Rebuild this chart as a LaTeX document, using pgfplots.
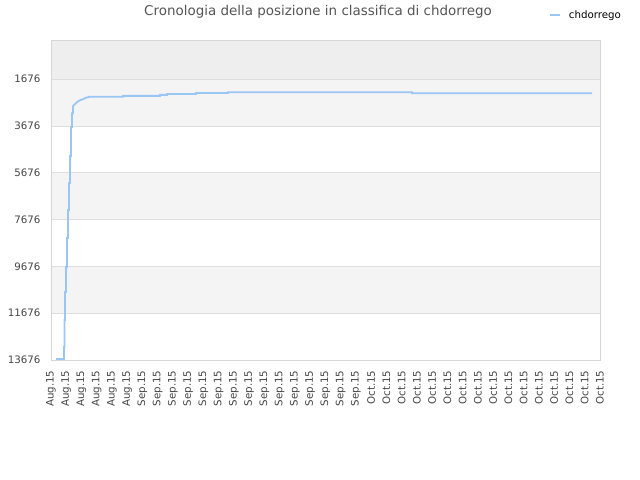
\documentclass[border=0pt]{standalone}
\usepackage{fontspec}
\setmainfont{DejaVu Sans}
\usepackage{pgfplots}
\pgfplotsset{compat=1.18}
\definecolor{lineblue}{HTML}{99C6F4}
\definecolor{bandA}{HTML}{EEEEEE}
\definecolor{bandB}{HTML}{F4F4F4}
\definecolor{gridc}{HTML}{DEDEDE}
\definecolor{framec}{HTML}{D6D6D6}
\definecolor{txt}{HTML}{444444}
\definecolor{titlec}{HTML}{555555}
\begin{document}
\begin{tikzpicture}
\begin{axis}[
  set layers,
  at={(51bp,120bp)}, anchor=south west,
  scale only axis, width=549bp, height=320bp,
  xmin=0, xmax=36, ymin=0, ymax=13676, y dir=reverse,
  scaled y ticks=false,
  axis line style={draw=framec},
  major tick length=0pt,
  ymajorgrids, grid style={draw=gridc, line width=0.8bp},
  ytick={1676,3676,5676,7676,9676,11676,13676},
  yticklabels={1676,3676,5676,7676,9676,11676,13676},
  xtick={0,...,36},
  xticklabels={Aug.15,Aug.15,Aug.15,Aug.15,Aug.15,Aug.15,
    Sep.15,Sep.15,Sep.15,Sep.15,Sep.15,Sep.15,Sep.15,Sep.15,Sep.15,Sep.15,Sep.15,Sep.15,Sep.15,Sep.15,Sep.15,
    Oct.15,Oct.15,Oct.15,Oct.15,Oct.15,Oct.15,Oct.15,Oct.15,Oct.15,Oct.15,Oct.15,Oct.15,Oct.15,Oct.15,Oct.15,Oct.15},
  ticklabel style={font=\fontsize{10.3}{12}\selectfont, text=txt},
  xticklabel style={rotate=90, anchor=east},
  yticklabel style={anchor=east},
  xticklabel shift=7bp,
  yticklabel shift=7bp,
  legend image code/.code={\draw[#1] (0bp,0bp) -- (10bp,0bp); \path (16bp,0bp);},
  legend style={at={(0.907,1.078)}, anchor=west, draw=none, fill=none,
    inner sep=0pt, font=\fontsize{10.3}{12}\selectfont, text=black},
  legend cell align=left,
]
\begin{pgfonlayer}{axis background}
\fill[bandA] (axis cs:0,0) rectangle (axis cs:36,1676);
\fill[bandB] (axis cs:0,1676) rectangle (axis cs:36,3676);
\fill[bandB] (axis cs:0,5676) rectangle (axis cs:36,7676);
\fill[bandB] (axis cs:0,9676) rectangle (axis cs:36,11676);
\end{pgfonlayer}
\addplot[lineblue, line width=1.8bp, line join=miter] coordinates {
  (0.33,13632) (0.85,13632) (0.85,13120) (0.885,13120) (0.885,11967)
  (0.92,11967) (0.92,10771) (0.98,10771) (0.98,9704) (1.05,9704)
  (1.05,8465) (1.11,8465) (1.11,7270) (1.18,7270) (1.18,6117)
  (1.25,6117) (1.25,4964) (1.31,4964) (1.31,3726) (1.38,3726)
  (1.38,3128) (1.44,3128) (1.44,2829) (1.51,2786) (1.57,2744)
  (1.70,2658) (1.90,2573) (2.10,2530) (2.30,2466) (2.56,2423)
  (4.72,2423) (4.72,2389) (7.15,2389) (7.15,2346) (7.61,2346)
  (7.61,2304) (9.51,2304) (9.51,2261) (11.61,2261) (11.61,2231)
  (23.67,2231) (23.67,2274) (35.48,2274)
};
\addlegendentry{chdorrego}
\end{axis}
\node[font=\fontsize{13.5}{15}\selectfont, text=titlec] at (318bp,468bp)
  {Cronologia della posizione in classifica di chdorrego};
\path (0,0) rectangle (640bp,480bp);
\end{tikzpicture}
\end{document}
